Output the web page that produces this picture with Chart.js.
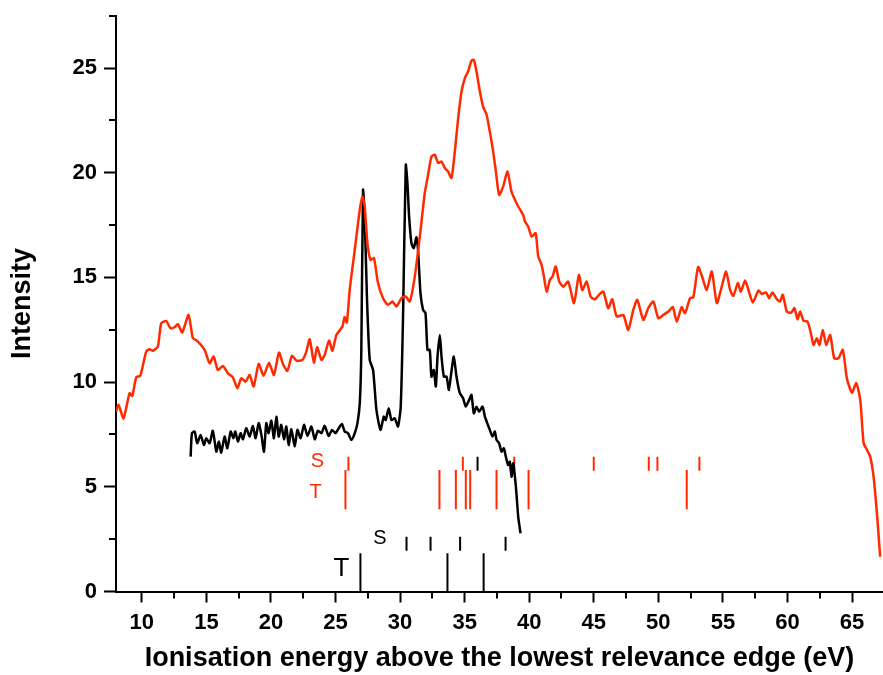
<!DOCTYPE html>
<html>
<head>
<meta charset="utf-8">
<script src="https://cdn.jsdelivr.net/npm/chart.js@4.4.1/dist/chart.umd.min.js"></script>
<style>
  html, body { margin: 0; padding: 0; background: #fff; }
  canvas { display: block; }
</style>
</head>
<body>
<canvas id="spectrum" width="883" height="675"></canvas>
<script>
// red spectrum (x = eV, y = intensity)
const redX = [8.0, 8.2, 8.58, 9.05, 9.26, 9.57, 9.88, 10.34, 10.6, 10.85, 11.24, 11.5, 11.89, 12.22, 12.53, 12.79, 13.13, 13.62, 13.95, 14.26,
  14.86, 15.25, 15.56, 15.89, 16.28, 16.67, 17.05, 17.4, 17.7, 18.04, 18.35, 18.66, 19.05, 19.43, 19.85, 20.23, 20.62, 20.93, 21.27, 21.63,
  21.97, 22.43, 22.74, 23.0, 23.33, 23.57, 23.91, 24.16, 24.5, 24.76, 25.07, 25.53, 25.7, 25.88, 26.1, 26.49, 26.88, 27.09, 27.26, 27.47,
  27.71, 27.98, 28.29, 28.68, 29.07, 29.41, 29.72, 30.11, 30.44, 30.75, 31.14, 31.53, 31.91, 32.17, 32.43, 32.69, 32.95, 33.21, 33.47, 33.72,
  33.98, 34.24, 34.5, 34.76, 35.02, 35.27, 35.53, 35.71, 35.92, 36.18, 36.43, 36.7, 36.95, 37.21, 37.42, 37.67, 37.98, 38.32, 38.63, 39.15,
  39.53, 39.67, 39.92, 40.19, 40.5, 40.7, 40.96, 41.14, 41.35, 41.6, 41.81, 42.05, 42.33, 42.64, 43.02, 43.47, 43.85, 44.11, 44.45, 44.76,
  45.09, 45.4, 45.74, 46.12, 46.43, 46.78, 47.29, 47.67, 48.06, 48.37, 48.84, 49.22, 49.61, 50.0, 50.39, 50.78, 51.12, 51.43, 51.81, 52.07,
  52.46, 52.71, 53.08, 53.37, 53.75, 54.14, 54.53, 54.91, 55.25, 55.56, 55.81, 56.16, 56.39, 56.72, 56.98, 57.32, 57.75, 58.02, 58.35, 58.58,
  58.84, 59.18, 59.43, 59.64, 59.95, 60.29, 60.54, 60.78, 60.98, 61.24, 61.55, 61.76, 62.02, 62.28, 62.48, 62.74, 63.0, 63.31, 63.62, 63.95,
  64.29, 64.6, 64.99, 65.33, 65.64, 65.9, 66.16, 66.41, 66.67, 66.93, 67.18];
const redY = [8.6, 8.91, 8.27, 9.47, 9.34, 10.23, 10.3, 11.46, 11.57, 11.5, 11.7, 12.81, 12.92, 12.57, 12.62, 12.77, 12.37, 13.21, 12.1, 11.98,
  11.54, 10.9, 11.22, 10.58, 10.77, 10.42, 10.23, 9.71, 10.19, 10.02, 10.34, 9.79, 10.87, 10.3, 10.93, 10.34, 11.41, 10.87, 10.54, 11.25,
  11.03, 11.06, 11.46, 12.05, 10.93, 11.67, 11.06, 11.3, 11.98, 11.5, 12.25, 12.65, 13.1, 12.85, 14.4, 16.32, 18.23, 18.86, 18.39, 16.64,
  15.84, 15.92, 14.73, 14.01, 13.69, 13.85, 13.61, 14.01, 14.09, 13.85, 15.04, 16.95, 19.02, 19.9, 20.77, 20.86, 20.46, 20.54, 20.22, 20.06,
  19.75, 21.01, 22.61, 23.88, 24.52, 24.84, 25.35, 25.39, 24.84, 23.88, 23.16, 22.77, 21.97, 21.01, 20.06, 18.94, 19.34, 20.06, 19.1, 18.39,
  17.99, 17.67, 17.43, 16.95, 17.11, 16.0, 15.6, 15.04, 14.32, 14.88, 15.04, 15.52, 14.8, 14.56, 14.8, 13.77, 15.12, 14.4, 14.8, 14.08,
  13.96, 14.17, 14.32, 13.53, 13.96, 13.13, 13.21, 12.49, 13.45, 13.93, 12.97, 13.53, 13.85, 13.05, 13.21, 13.37, 13.58, 12.89, 13.58, 13.29,
  14.01, 14.05, 15.5, 15.08, 14.4, 15.28, 13.77, 14.56, 15.28, 14.4, 14.12, 14.73, 14.32, 14.85, 14.4, 13.8, 14.37, 14.21, 14.28, 14.01,
  14.28, 13.96, 13.85, 14.17, 13.37, 13.32, 13.53, 13.0, 13.37, 12.94, 12.89, 12.49, 11.78, 12.1, 11.78, 12.49, 11.78, 12.25, 11.14, 11.14,
  11.54, 10.19, 9.5, 9.95, 9.15, 7.08, 6.76, 6.44, 5.48, 3.74, 1.66];

// black spectrum
const blackX = [13.78, 13.88, 14.09, 14.29, 14.55, 14.81, 14.99, 15.25, 15.5, 15.77, 15.97, 16.15, 16.41, 16.62, 16.88, 17.09, 17.24, 17.44, 17.65, 17.83,
  18.09, 18.35, 18.6, 18.81, 19.05, 19.26, 19.46, 19.64, 19.82, 20.03, 20.23, 20.42, 20.6, 20.8, 21.01, 21.19, 21.37, 21.58, 21.84, 22.05,
  22.3, 22.56, 22.83, 23.13, 23.39, 23.64, 23.91, 24.16, 24.47, 24.73, 24.99, 25.25, 25.5, 25.71, 25.97, 26.23, 26.49, 26.7, 26.88, 27.0,
  27.13, 27.26, 27.44, 27.65, 27.91, 28.17, 28.48, 28.74, 28.89, 29.12, 29.33, 29.59, 29.84, 30.05, 30.23, 30.44, 30.57, 30.7, 30.88, 31.06,
  31.27, 31.39, 31.58, 31.78, 31.97, 32.12, 32.3, 32.43, 32.61, 32.77, 32.9, 33.08, 33.21, 33.39, 33.6, 33.78, 33.96, 34.16, 34.37, 34.63,
  34.88, 35.09, 35.35, 35.53, 35.71, 35.92, 36.12, 36.39, 36.57, 36.75, 36.95, 37.16, 37.34, 37.47, 37.67, 37.86, 38.04, 38.19, 38.37, 38.5,
  38.63, 38.76, 38.97, 39.15, 39.33];
const blackY = [6.44, 7.56, 7.64, 7.08, 7.48, 7.0, 7.32, 7.08, 7.68, 6.68, 7.16, 6.63, 7.4, 6.84, 7.64, 7.32, 7.64, 7.16, 7.56, 7.27,
  7.8, 7.4, 7.91, 7.32, 8.04, 7.48, 6.68, 8.04, 7.56, 8.16, 7.32, 8.35, 7.4, 7.96, 7.27, 7.88, 7.0, 7.75, 6.92, 7.72,
  7.32, 7.96, 7.43, 7.88, 7.27, 7.68, 7.56, 7.91, 7.43, 7.72, 7.56, 7.8, 8.0, 7.64, 7.56, 7.24, 7.56, 8.04, 9.0, 11.54,
  19.18, 17.9, 13.93, 11.06, 10.58, 8.67, 7.72, 8.35, 8.19, 8.75, 8.19, 8.27, 7.88, 8.83, 13.13, 20.38, 19.5, 17.9, 16.64, 16.4,
  16.92, 16.32, 14.25, 13.45, 13.29, 11.54, 11.54, 10.26, 10.58, 9.79, 11.22, 12.25, 11.22, 10.26, 10.26, 9.63, 10.42, 11.22, 10.26, 9.47,
  9.23, 8.83, 9.15, 9.39, 8.51, 8.83, 8.59, 8.83, 8.35, 8.04, 7.72, 7.4, 7.64, 7.24, 7.08, 6.68, 6.84, 6.44, 6.04, 6.2,
  5.48, 6.12, 5.0, 3.57, 2.78];

// calculated transition energies (eV) shown as sticks
const redSinglets = [26.0, 34.86, 38.84, 45.0, 49.26, 49.93, 53.18];
const redTriplets = [25.77, 33.05, 34.32, 35.09, 35.43, 37.47, 39.95, 52.2];
const blackSingletsUpper = [36.0];
const blackSinglets = [30.5, 32.36, 34.65, 38.17];
const blackTriplets = [26.93, 33.67, 36.47];

// stick heights (intensity units)
const redSRange = [5.77, 6.44];
const redTRange = [3.93, 5.8];
const blackSRange = [1.95, 2.62];
const blackTRange = [0, 1.83];

const xTicks = [10, 15, 20, 25, 30, 35, 40, 45, 50, 55, 60, 65];
const yTicks = [0, 5, 10, 15, 20, 25];
const xMinorTicks = [12.5, 17.5, 22.5, 27.5, 32.5, 37.5, 42.5, 47.5, 52.5, 57.5, 62.5];
const yMinorTicks = [2.5, 7.5, 12.5, 17.5, 22.5, 27.5];

const RED = '#ff2a00';
const FONT = 'Liberation Sans, Arial, sans-serif';

const stickLabels = [
  { text: 'S', x: 23.6, y: 6.2, color: RED, size: 20 },
  { text: 'T', x: 23.45, y: 4.75, color: RED, size: 20 },
  { text: 'S', x: 28.43, y: 2.52, color: '#000', size: 20 },
  { text: 'T', x: 25.46, y: 1.07, color: '#000', size: 26 }
];

function toPoints(xs, ys) {
  return xs.map((x, i) => ({ x: x, y: ys[i] }));
}

function sticks(xs, range) {
  const pts = [];
  xs.forEach(x => {
    pts.push({ x: x, y: range[0] });
    pts.push({ x: x, y: range[1] });
    pts.push({ x: x, y: null });
  });
  return pts;
}

function stickSet(xs, range, color) {
  return {
    data: sticks(xs, range),
    borderColor: color,
    borderWidth: 2,
    pointRadius: 0,
    spanGaps: false,
    tension: 0
  };
}

const extrasPlugin = {
  id: 'extras',
  afterDraw(chart) {
    const ctx = chart.ctx;
    const xs = chart.scales.x;
    const ys = chart.scales.y;
    const area = chart.chartArea;
    ctx.save();
    ctx.strokeStyle = '#000';
    ctx.lineWidth = 2;
    ctx.beginPath();
    xMinorTicks.forEach(v => {
      const px = Math.round(xs.getPixelForValue(v));
      ctx.moveTo(px, area.bottom);
      ctx.lineTo(px, area.bottom + 7);
    });
    yMinorTicks.forEach(v => {
      const py = Math.round(ys.getPixelForValue(v));
      ctx.moveTo(area.left, py);
      ctx.lineTo(area.left - 7, py);
    });
    ctx.stroke();

    ctx.textAlign = 'center';
    ctx.textBaseline = 'middle';
    stickLabels.forEach(l => {
      ctx.fillStyle = l.color;
      ctx.font = l.size + 'px ' + FONT;
      ctx.fillText(l.text, xs.getPixelForValue(l.x), ys.getPixelForValue(l.y));
    });
    ctx.restore();
  }
};

const ctx = document.getElementById('spectrum').getContext('2d');
new Chart(ctx, {
  type: 'line',
  data: {
    datasets: [
      {
        data: toPoints(redX, redY),
        borderColor: RED,
        borderWidth: 2.5,
        pointRadius: 0,
        tension: 0.2
      },
      {
        data: toPoints(blackX, blackY),
        borderColor: '#000',
        borderWidth: 2.5,
        pointRadius: 0,
        tension: 0.2
      },
      stickSet(redSinglets, redSRange, RED),
      stickSet(redTriplets, redTRange, RED),
      stickSet(blackSingletsUpper, redSRange, '#000'),
      stickSet(blackSinglets, blackSRange, '#000'),
      stickSet(blackTriplets, blackTRange, '#000')
    ]
  },
  options: {
    responsive: false,
    animation: false,
    layout: { padding: { top: 15.7, right: 0, left: 0, bottom: 0 } },
    plugins: {
      legend: { display: false },
      tooltip: { enabled: false }
    },
    scales: {
      x: {
        type: 'linear',
        min: 8,
        max: 67.4,
        afterBuildTicks: scale => { scale.ticks = xTicks.map(v => ({ value: v })); },
        afterFit: scale => {
          scale.height = 83.5;
          scale.paddingLeft = 0;
          scale.paddingRight = 0;
        },
        grid: { drawOnChartArea: false, drawTicks: true, tickLength: 11, tickWidth: 2, tickColor: '#000' },
        border: { display: true, color: '#000', width: 2 },
        ticks: {
          color: '#000',
          padding: 7,
          maxRotation: 0,
          autoSkip: false,
          font: { family: FONT, size: 22, weight: 'bold' }
        },
        title: {
          display: true,
          text: 'Ionisation energy above the lowest relevance edge (eV)',
          color: '#000',
          padding: { top: 0, bottom: 0 },
          font: { family: FONT, size: 27, weight: 'bold' }
        }
      },
      y: {
        type: 'linear',
        min: 0,
        max: 27.5,
        afterBuildTicks: scale => { scale.ticks = yTicks.map(v => ({ value: v })); },
        afterFit: scale => {
          scale.width = 116;
          scale.paddingTop = 0;
          scale.paddingBottom = 0;
        },
        grid: { drawOnChartArea: false, drawTicks: true, tickLength: 12, tickWidth: 2, tickColor: '#000' },
        border: { display: true, color: '#000', width: 2 },
        ticks: {
          color: '#000',
          padding: 7,
          autoSkip: false,
          font: { family: FONT, size: 22, weight: 'bold' }
        },
        title: {
          display: true,
          text: 'Intensity',
          color: '#000',
          padding: { top: 6, bottom: 0 },
          font: { family: FONT, size: 27, weight: 'bold' }
        }
      }
    }
  },
  plugins: [extrasPlugin]
});
</script>
</body>
</html>
